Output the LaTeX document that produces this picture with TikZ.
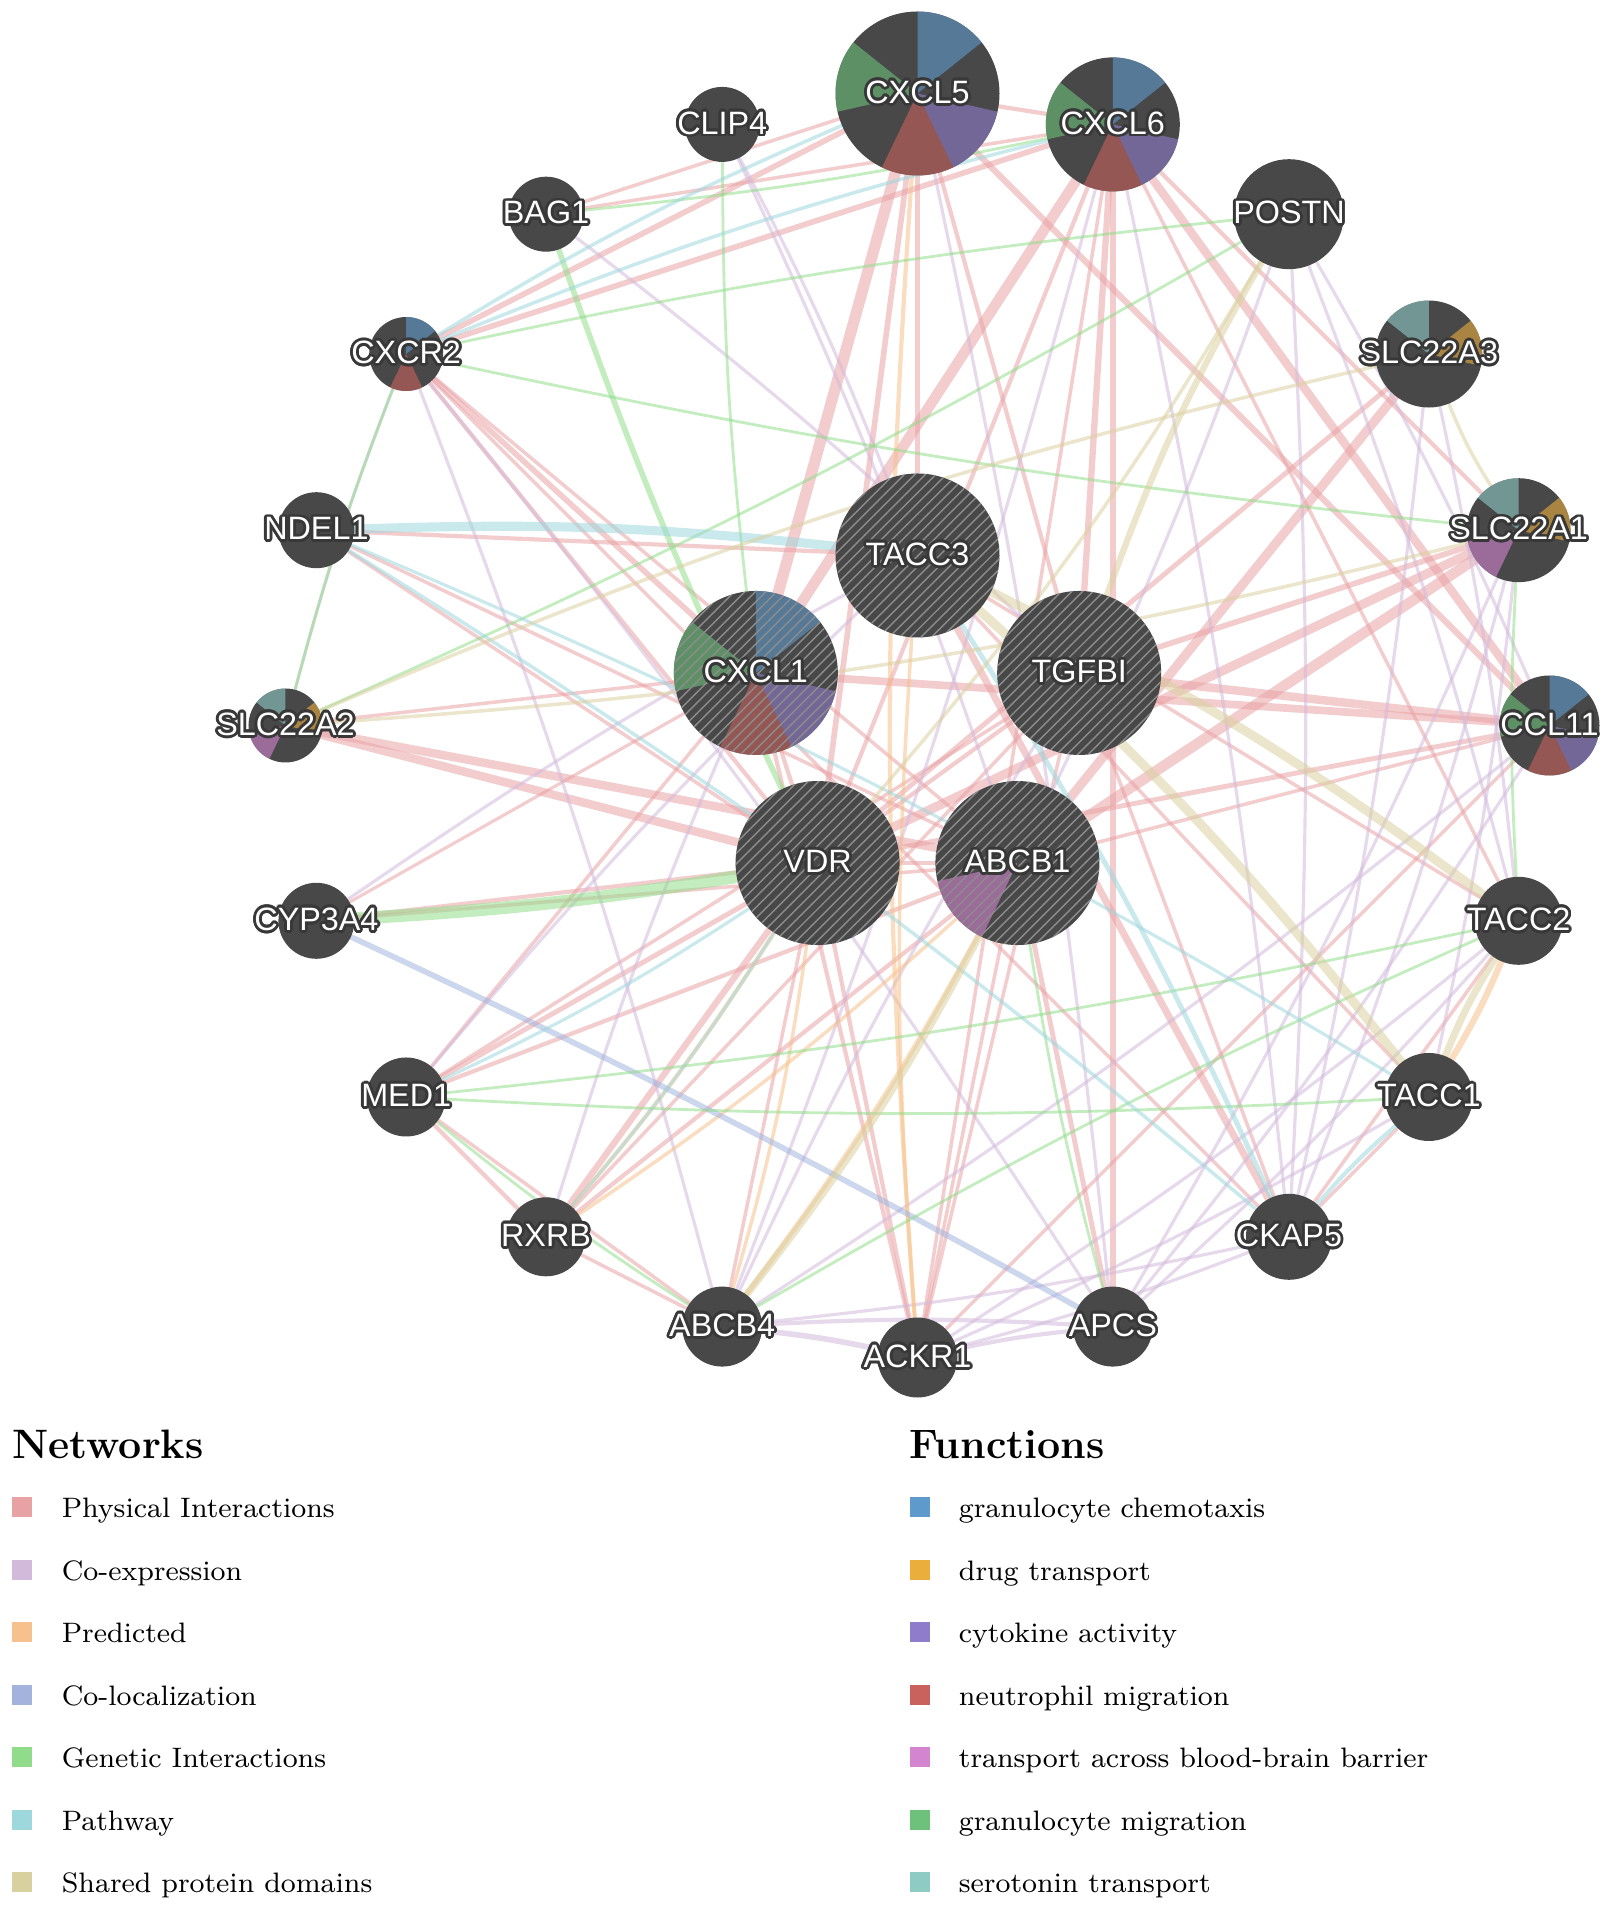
\documentclass[tikz,border=0pt]{standalone}
\usepackage{fontspec}
\usepackage{contour}
\usetikzlibrary{positioning,patterns}
\newfontfamily\genefont{Liberation Sans}

\definecolor{nodegray}{HTML}{484848}
\definecolor{rimgray}{HTML}{383838}
\definecolor{hatchgray}{HTML}{8C8C8C}
% networks
\definecolor{cphys}{HTML}{E9A2A4}
\definecolor{ccoexp}{HTML}{D2BADB}
\definecolor{cpred}{HTML}{F6C18C}
\definecolor{ccoloc}{HTML}{A2B4DE}
\definecolor{cgen}{HTML}{91DC8A}
\definecolor{cpath}{HTML}{9ED7DC}
\definecolor{cshare}{HTML}{D9D0A0}
% functions
\definecolor{fn1}{HTML}{5E9ACB}
\definecolor{fn2}{HTML}{EAAE3D}
\definecolor{fn3}{HTML}{8F7DCB}
\definecolor{fn4}{HTML}{C9625D}
\definecolor{fn5}{HTML}{D385CF}
\definecolor{fn6}{HTML}{6EC17B}
\definecolor{fn7}{HTML}{8ECBC5}

\pgfdeclarelayer{edges}
\pgfdeclarelayer{labels}
\pgfsetlayers{edges,main,labels}

\contourlength{0.8pt}

% one seventh of a gene circle, coloured after its function
\newcommand\fnslice[3]{%
  \fill[fn#3, fill opacity=.6] (#1.center) -- ++({90-(#3-1)*360/7}:#2)
    arc[start angle={90-(#3-1)*360/7}, delta angle={-360/7}, radius=#2] -- cycle;}

\begin{document}
\begin{tikzpicture}[
    gene/.style={circle, fill=nodegray, inner sep=0pt, minimum size=#1cm},
    glabel/.style={text=white, inner sep=0pt, font=\genefont\fontsize{9.2}{11}\selectfont},
    link/.style={line width=#1, draw opacity=.55, line cap=round},
    phys/.style={link=#1, draw=cphys},
    coexp/.style={link=#1, draw=ccoexp},
    pred/.style={link=#1, draw=cpred},
    coloc/.style={link=#1, draw=ccoloc},
    genet/.style={link=#1, draw=cgen},
    pathw/.style={link=#1, draw=cpath},
    shared/.style={link=#1, draw=cshare},
    keybox/.style={minimum size=.2cm, inner sep=0pt},
    keytext/.style={anchor=base west, inner sep=0pt, font=\fontsize{8}{9.6}\selectfont},
    keytitle/.style={anchor=base west, inner sep=0pt, font=\bfseries\fontsize{11.7}{14}\selectfont}]
  \useasboundingbox (-9.175,-11.805) rectangle (6.915,7.255);
  \def\R{6.32}\def\Ri{1.70}

  % outer ring of related genes
  \foreach \g/\ang/\s in {CXCL5/90/1.64, CXCL6/72/1.34, POSTN/54/1.10, SLC22A3/36/1.07,
      SLC22A1/18/1.04, CCL11/0/1.00, TACC2/-18/0.88, TACC1/-36/0.88, CKAP5/-54/0.86,
      APCS/-72/0.80, ACKR1/-90/0.80, ABCB4/-108/0.80, RXRB/-126/0.79, MED1/-144/0.79,
      CYP3A4/-162/0.76, SLC22A2/180/0.74, NDEL1/162/0.76, CXCR2/144/0.74,
      BAG1/126/0.75, CLIP4/108/0.75}
    \node[gene=\s] (\g) at (\ang:\R) {};
  % query genes in the middle
  \foreach \g/\ang in {TACC3/90, TGFBI/18, ABCB1/-54, VDR/-126, CXCL1/162}
    \node[gene=1.64] (\g) at (\ang:\Ri) {};

  % function slices
  \foreach \g/\r in {CXCL5/.82, CXCL6/.67, CXCL1/.82, CCL11/.50}
    {\fnslice{\g}{\r}{1}\fnslice{\g}{\r}{3}\fnslice{\g}{\r}{4}\fnslice{\g}{\r}{6}}
  \fnslice{CXCR2}{.37}{1}\fnslice{CXCR2}{.37}{4}
  \fnslice{SLC22A3}{.535}{2}\fnslice{SLC22A3}{.535}{7}
  \foreach \g/\r in {SLC22A1/.52, SLC22A2/.37}
    {\fnslice{\g}{\r}{2}\fnslice{\g}{\r}{5}\fnslice{\g}{\r}{7}}
  \fnslice{ABCB1}{.82}{5}
  \foreach \g in {TACC3, TGFBI, ABCB1, VDR, CXCL1}
    \fill[pattern=north east lines, pattern color=hatchgray] (\g.center) circle (.82);

  % gene names
  \begin{pgfonlayer}{labels}
    \foreach \g in {CXCL5, CXCL6, POSTN, SLC22A3, SLC22A1, CCL11, TACC2, TACC1, CKAP5,
        APCS, ACKR1, ABCB4, RXRB, MED1, CYP3A4, SLC22A2, NDEL1, CXCR2, BAG1, CLIP4,
        TACC3, TGFBI, ABCB1, VDR, CXCL1}
      \node[glabel] (\g-l) at (\g.center) {\contour{rimgray}{\g}};
  \end{pgfonlayer}

  % interactions
  \begin{pgfonlayer}{edges}
    % physical interactions
    \foreach \p/\q/\w in {CXCL5/CXCL1/3.2, CXCL6/CXCL1/3.0, CXCL5/CXCL6/1.2, CXCL5/CXCR2/1.6,
        CXCL6/CXCR2/1.6, CXCL1/CXCR2/1.6, CXCL5/CCL11/1.8, CXCL6/CCL11/2.4, CXCL1/CCL11/2.2,
        TGFBI/CCL11/2.4, VDR/CCL11/1.4, CXCL6/ACKR1/1.0, CXCL1/ACKR1/1.2, CCL11/ACKR1/1.0,
        CXCL5/BAG1/1.0, CXCL6/BAG1/1.0, CXCL5/VDR/1.6, CXCL6/TGFBI/1.8, CXCL5/TGFBI/1.2,
        CXCL6/APCS/1.6, CXCL6/TACC2/1.0, CXCL6/VDR/1.2, CXCL6/SLC22A1/1.2, CXCL5/TACC3/1.2,
        VDR/MED1/1.4, VDR/RXRB/1.8, MED1/RXRB/1.2, MED1/ABCB4/1.0, RXRB/ABCB4/1.0,
        VDR/CYP3A4/1.2, VDR/SLC22A2/2.4, ABCB1/SLC22A2/2.4, VDR/ABCB4/1.0, VDR/ACKR1/1.2,
        VDR/CXCL1/1.2, VDR/ABCB1/1.4, VDR/TGFBI/1.2, VDR/SLC22A1/2.6, VDR/SLC22A3/1.4,
        VDR/NDEL1/1.0, VDR/CXCR2/1.2, MED1/ABCB1/1.2, MED1/TGFBI/1.0, MED1/CXCL1/1.0,
        RXRB/ABCB1/1.2, RXRB/TGFBI/1.0, ABCB1/SLC22A1/3.0, ABCB1/SLC22A3/2.6,
        ABCB1/CYP3A4/1.0, ABCB1/APCS/1.4, ABCB1/CCL11/1.0, TGFBI/SLC22A1/1.6,
        TGFBI/CKAP5/1.0, TACC3/CKAP5/2.0, TACC3/TACC1/1.0, TACC3/TACC2/1.0,
        TACC3/NDEL1/1.2, CKAP5/TACC1/1.0, CKAP5/TACC2/1.0, CXCR2/ABCB1/1.0,
        CXCR2/CKAP5/1.0, NDEL1/ABCB1/1.0, CYP3A4/CXCL1/0.9, ACKR1/ABCB1/1.0,
        ACKR1/TGFBI/1.0, SLC22A2/CXCL1/1.0}
      \draw[phys=\w pt] (\p) -- (\q);
    % co-expression
    \foreach \p/\q/\w in {ABCB4/ACKR1/1.6, ACKR1/APCS/1.2, ABCB4/APCS/1.2, CYP3A4/TACC3/0.9,
        SLC22A2/CXCR2/0.9, CXCR2/APCS/0.9, CLIP4/TACC3/0.9, CLIP4/ABCB1/0.9,
        POSTN/CKAP5/0.9, POSTN/TACC2/0.9, POSTN/CCL11/0.9, POSTN/ABCB1/0.9,
        CXCL6/CKAP5/0.9, CXCL6/ABCB4/0.9, CXCL5/APCS/0.9, SLC22A1/CKAP5/0.9,
        SLC22A1/APCS/0.9, SLC22A1/TACC1/0.9, SLC22A3/CKAP5/0.9, SLC22A3/TACC2/0.9,
        CCL11/ABCB4/0.9, CCL11/APCS/0.9, TACC2/ACKR1/0.9, TACC2/APCS/0.9,
        TACC1/ACKR1/0.9, CKAP5/ACKR1/0.9, CKAP5/ABCB4/0.9, MED1/TACC3/0.9,
        RXRB/CXCL1/0.9, ABCB4/TGFBI/0.9, BAG1/TGFBI/0.9, CXCR2/ABCB4/0.9}
      \draw[coexp=\w pt] (\p) to[bend left=3] (\q);
    % predicted
    \foreach \p/\q/\w in {CXCL5/ACKR1/1.2, TACC3/ACKR1/1.0, ABCB4/ABCB1/1.4, RXRB/VDR/1.2,
        TACC1/TACC2/1.8, ABCB4/VDR/1.0, RXRB/ABCB1/1.0}
      \draw[pred=\w pt] (\p) to[bend right=4] (\q);
    % co-localization
    \draw[coloc=1.6pt] (CYP3A4) to[bend left=2] (APCS);
    % genetic interactions
    \foreach \p/\q/\w in {CYP3A4/VDR/3.6, BAG1/VDR/1.6, BAG1/CXCL6/0.8, CXCR2/SLC22A1/0.8,
        CXCR2/SLC22A2/0.8, SLC22A2/POSTN/0.8, MED1/TACC1/0.8, MED1/TACC2/0.8,
        MED1/ABCB4/0.8, TACC2/ABCB4/0.8, POSTN/CXCR2/0.8, SLC22A1/TACC2/0.8,
        ABCB1/APCS/0.8, CLIP4/CXCL1/0.8}
      \draw[genet=\w pt] (\p) to[bend right=3] (\q);
    % pathway
    \foreach \p/\q/\w in {NDEL1/TACC3/2.6, NDEL1/CKAP5/1.0, NDEL1/TACC1/0.9, TACC3/CKAP5/1.4,
        CKAP5/TACC1/1.2, CXCR2/CXCL5/1.0, CXCR2/CXCL6/1.0, VDR/MED1/0.9, VDR/RXRB/0.9}
      \draw[pathw=\w pt] (\p) to[bend left=4] (\q);
    % shared protein domains
    \foreach \p/\q/\w in {TACC3/TACC1/2.6, TACC3/TACC2/2.6, TACC1/TACC2/2.0, TGFBI/POSTN/1.8,
        ABCB1/ABCB4/2.0, SLC22A1/SLC22A2/1.0, SLC22A2/SLC22A3/1.0, SLC22A1/SLC22A3/1.0,
        POSTN/VDR/1.0}
      \draw[shared=\w pt] (\p) to[bend left=5] (\q);
  \end{pgfonlayer}

  % legend: networks
  \node[keytitle] (nettitle) at (-9.055,-7.325) {Networks};
  \foreach \c/\t [count=\i] in {cphys/Physical Interactions, ccoexp/Co-expression,
      cpred/Predicted, ccoloc/Co-localization, cgen/Genetic Interactions,
      cpath/Pathway, cshare/Shared protein domains} {
    \node[keybox, fill=\c] (net\i) at (-8.95,{-7.815-.625*(\i-1)}) {};
    \node[keytext] (nettxt\i) at ([xshift=.28cm]net\i.south east) {\t};
  }
  % legend: functions
  \node[keytitle] (fntitle) at (-0.085,-7.325) {Functions};
  \foreach \t [count=\i] in {granulocyte chemotaxis, drug transport, cytokine activity,
      neutrophil migration, transport across blood-brain barrier,
      granulocyte migration, serotonin transport} {
    \node[keybox, fill=fn\i] (fn\i) at (0.02,{-7.815-.625*(\i-1)}) {};
    \node[keytext] (fntxt\i) at ([xshift=.28cm]fn\i.south east) {\t};
  }
\end{tikzpicture}
\end{document}
